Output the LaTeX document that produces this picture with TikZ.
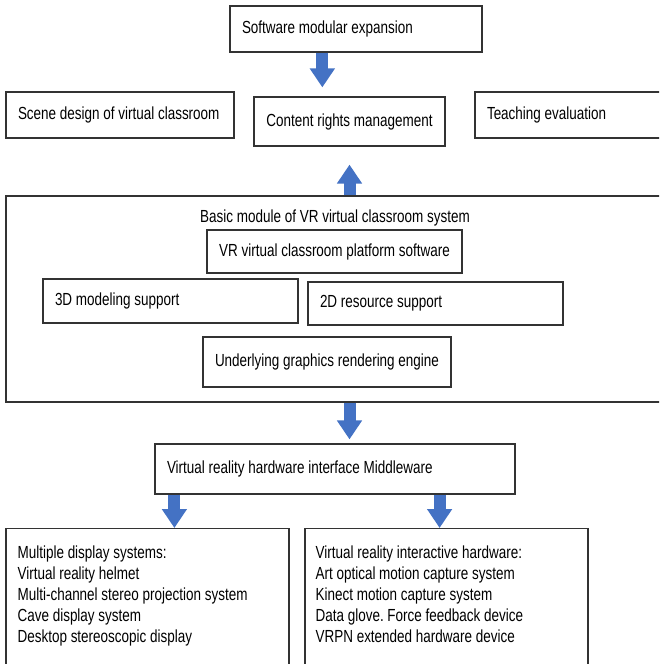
\documentclass[tikz,border=0pt]{standalone}
\usepackage{fontspec}
\setmainfont{Liberation Sans}[FakeStretch=0.77]
\usetikzlibrary{arrows.meta,positioning,calc}
\definecolor{arrowblue}{HTML}{4472C4}
\frenchspacing

\begin{document}
\begin{tikzpicture}[x=1pt,y=-1pt,
  box/.style={draw=black!80,line width=1.2pt,inner xsep=12pt,inner ysep=0pt,
    font=\fontsize{17.5}{21}\selectfont},
  lbox/.style={box,align=flush left},
  listtext/.style={inner sep=0pt,align=flush left,font=\fontsize{17.5}{21}\selectfont},
  blockarrow/.style={arrowblue,line width=12pt,-{Triangle[width=24pt,length=19pt]}}]
\useasboundingbox[fill=white] (0,0) rectangle (659,664);
\clip (0,0) rectangle (659,664);

% top row
\node (sme) [lbox,minimum width=252pt,minimum height=46pt,text width=228pt] at (356,29) {Software modular expansion};
\node (scene) [lbox,minimum width=228pt,minimum height=46pt,text width=204pt] at (120,115) {\mbox{Scene design of virtual classroom}};
\node (crm) [box,minimum width=191pt,minimum height=49pt,align=center] at (349.5,121.5) {Content rights management};
\node (teach) [lbox,minimum width=200pt,minimum height=46pt,text width=176pt] at (575,115) {Teaching evaluation};

% basic module
\node (core) [box,minimum width=664pt,minimum height=206pt] at (338,299) {};
\node (coretitle) [listtext] at (335,218) {Basic module of VR virtual classroom system};
\node (plat) [box,minimum width=255pt,minimum height=43pt,align=center] at (334.5,251.5) {VR virtual classroom platform software};
\node (model3d) [lbox,minimum width=255pt,minimum height=44pt,text width=231pt] at (170.5,301) {3D modeling support};
\node (res2d) [lbox,minimum width=255pt,minimum height=43pt,text width=231pt] at (435.5,303.5) {2D resource support};
\node (engine) [box,minimum width=244pt,minimum height=50pt,align=center] at (327,362) {Underlying graphics rendering engine};

% hardware
\node (mw) [lbox,minimum width=360pt,minimum height=50pt,text width=336pt] at (335,469) {Virtual reality hardware interface Middleware};
\node (disp) [box,anchor=north,minimum width=283pt,minimum height=160pt] at (147.5,528) {};
\node (inter) [box,anchor=north,minimum width=283pt,minimum height=160pt] at (446.5,528) {};
\node (disptext) [listtext,anchor=north west] at ($(disp.north west)+(12,18)$) {Multiple display systems:\\Virtual reality helmet\\Multi-channel stereo projection system\\Cave display system\\Desktop stereoscopic display};
\node (intertext) [listtext,anchor=north west] at ($(inter.north west)+(11,18)$) {Virtual reality interactive hardware:\\Art optical motion capture system\\Kinect motion capture system\\Data glove. Force feedback device\\VRPN extended hardware device};

% arrows
\coordinate (a1) at ($(sme.south west)!0.367!(sme.south east)$);
\draw[blockarrow,shorten >=9pt] (a1) -- (a1 |- crm.north);
\draw[blockarrow,shorten >=18pt] (crm.south |- core.north) -- (crm.south);
\draw[blockarrow,shorten >=4pt] (crm.south |- core.south) -- (crm.south |- mw.north);
\coordinate (l1) at ([xshift=20pt]mw.south west);
\coordinate (r1) at ([xshift=-76pt]mw.south east);
\draw[blockarrow] (l1) -- (l1 |- disp.north);
\draw[blockarrow] (r1) -- (r1 |- inter.north);
\end{tikzpicture}
\end{document}
